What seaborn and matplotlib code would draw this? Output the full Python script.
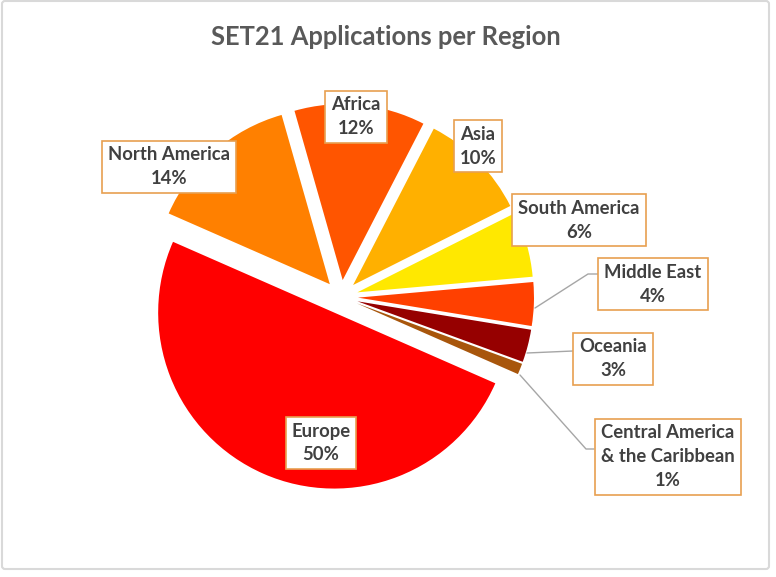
import matplotlib
matplotlib.use("Agg")
import matplotlib.pyplot as plt
import seaborn as sns
from matplotlib.patches import FancyBboxPatch

# ---- data ----
regions = ["Europe", "North America", "Africa", "Asia", "South America",
           "Middle East", "Oceania", "Central America\n& the Caribbean"]
shares = [50, 14, 12, 10, 6, 4, 3, 1]
title = "SET21 Applications per Region"

# ---- style ----
colors = sns.color_palette(["#FF0000", "#FF8000", "#FF5500", "#FFB000",
                            "#FFE800", "#FF4000", "#960000", "#A8560C"])
sns.set_theme(style="white")
plt.rcParams["font.family"] = ["Lato", "DejaVu Sans"]

W, H = 776, 577
fig = plt.figure(figsize=(W / 100, H / 100), dpi=100)
ax = fig.add_axes([0, 0, 1, 1])

cx, cy, R = 341, H - 297, 176
gap = 17
wedges, _ = ax.pie(shares, colors=colors, startangle=-23.7, counterclock=False,
                   explode=[gap] * len(shares), radius=R, center=(cx, cy),
                   frame=True, wedgeprops=dict(linewidth=0))
ax.set_xlim(0, W)
ax.set_ylim(0, H)
ax.set_aspect("equal")
ax.axis("off")

# label boxes (image coords: center x, center y)
label_pos = [(321, 443), (169, 167), (356, 117), (478, 146), (579, 220),
             (653, 284), (613, 359), (668, 457)]
txt_color = "#404040"
for name, val, (x, y) in zip(regions, shares, label_pos):
    ax.text(x, H - y, f"{name}\n{val}%", ha="center", va="center",
            fontsize=13.3, fontweight="bold", color=txt_color, linespacing=1.5,
            bbox=dict(boxstyle="square,pad=0.32", fc="white", ec="#E8A050", lw=1.2),
            zorder=5)

# leader lines (image coords)
leaders = [[(535, 308), (588, 274), (598, 274)],
           [(527, 353), (573, 351)],
           [(520, 375), (586, 449), (594, 449)]]
for pts in leaders:
    ax.plot([p[0] for p in pts], [H - p[1] for p in pts], color="#A6A6A6",
            lw=1, zorder=4)

# title
ax.text(386, H - 37, title, ha="center", va="center", fontsize=18.4,
        fontweight="bold", color="#595959")

# chart border
ax.add_patch(FancyBboxPatch((2, H - 569), 767, 568, boxstyle="round,pad=0,rounding_size=3",
                            fc="none", ec="#D9D9D9", lw=1.5, zorder=6))

fig.savefig("out.png", dpi=100)
